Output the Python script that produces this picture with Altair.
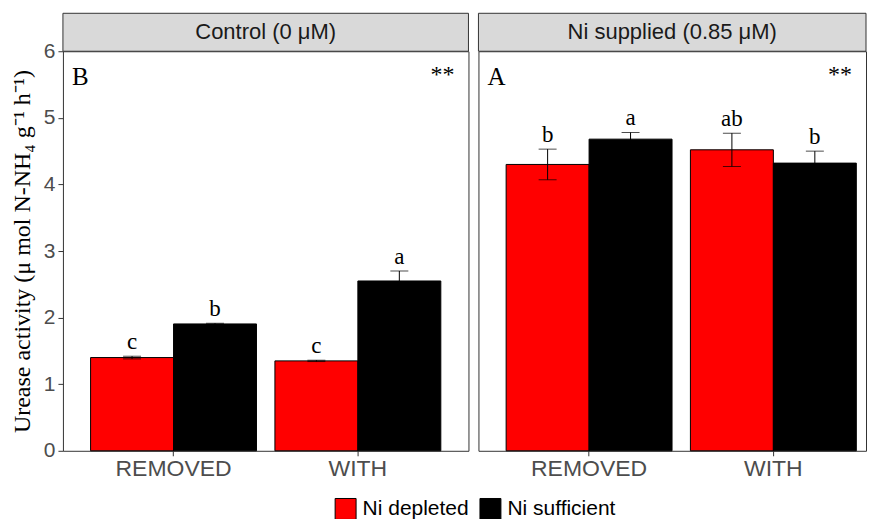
import altair as alt
import pandas as pd

panels = ["Control (0 μM)", "Ni supplied (0.85 μM)"]
groups = ["REMOVED", "WITH"]
ni_levels = ["Ni depleted", "Ni sufficient"]
colors = ["#ff0000", "#000000"]

# order: REMOVED-depleted, REMOVED-sufficient, WITH-depleted, WITH-sufficient
control_means = [1.40, 1.905, 1.35, 2.55]
control_err = [0.02, 0.01, 0.01, 0.15]
control_letters = ["c", "b", "c", "a"]

ni_means = [4.30, 4.68, 4.52, 4.32]
ni_err = [0.23, 0.10, 0.25, 0.18]
ni_letters = ["b", "a", "ab", "b"]

panel_tags = ["B", "A"]
panel_sig = ["**", "**"]

y_title = "Urease activity (μ mol N-NH₄ g⁻¹ h⁻¹)"
y_ticks = [0, 1, 2, 3, 4, 5, 6]

rows = []
for p, means, errs, lets in [
    (panels[0], control_means, control_err, control_letters),
    (panels[1], ni_means, ni_err, ni_letters),
]:
    k = 0
    for g in groups:
        for n in ni_levels:
            rows.append(dict(panel=p, group=g, ni=n, mean=means[k],
                             lo=means[k] - errs[k], hi=means[k] + errs[k],
                             letter=lets[k]))
            k += 1
df = pd.DataFrame(rows)

W1 = 406
W2 = 388
H = 400


def make_panel(idx, width, xscale, show_y):
    d = df[df.panel == panels[idx]]
    yaxis = (alt.Axis(title=y_title, values=y_ticks, format="d")
             if show_y else None)
    yscale = alt.Scale(domain=[0, 6], nice=False)
    base = alt.Chart(d).encode(
        x=alt.X("group:N", sort=groups, scale=xscale,
                axis=alt.Axis(title=None, labelAngle=0)),
        xOffset=alt.XOffset("ni:N", sort=ni_levels),
    )
    bars = base.mark_bar(stroke="black", strokeWidth=1).encode(
        y=alt.Y("mean:Q", scale=yscale, axis=yaxis),
        color=alt.Color("ni:N", sort=ni_levels,
                        scale=alt.Scale(domain=ni_levels, range=colors),
                        legend=alt.Legend(title=None, orient="none",
                                          legendX=272, legendY=447)),
    )
    rule = base.mark_rule(color="black", strokeWidth=1).encode(
        y=alt.Y("lo:Q", scale=yscale), y2="hi:Q")
    cap_hi = base.mark_tick(color="black", size=18, thickness=1).encode(
        y=alt.Y("hi:Q", scale=yscale))
    cap_lo = base.mark_tick(color="black", size=18, thickness=1).encode(
        y=alt.Y("lo:Q", scale=yscale))
    letters = base.mark_text(font="Liberation Serif", fontSize=23,
                             baseline="alphabetic", dy=-7, color="black").encode(
        y=alt.Y("hi:Q", scale=yscale), text="letter:N")

    sdf = pd.DataFrame({"t": [panels[idx]], "tag": [panel_tags[idx]],
                        "sig": [panel_sig[idx]]})
    strip = alt.Chart(sdf).mark_rect(fill="#d9d9d9", stroke="#333333",
                                     strokeWidth=1).encode(
        x=alt.value(0), x2=alt.value(width), y=alt.value(-38), y2=alt.value(0))
    strip_text = alt.Chart(sdf).mark_text(font="Liberation Sans", fontSize=22,
                                          color="#1a1a1a", baseline="middle").encode(
        x=alt.value(width / 2), y=alt.value(-19), text="t:N")
    tag = alt.Chart(sdf).mark_text(font="Liberation Serif", fontSize=25,
                                   align="left", baseline="middle",
                                   color="black").encode(
        x=alt.value(9), y=alt.value(26), text="tag:N")
    sig = alt.Chart(sdf).mark_text(font="Liberation Serif", fontSize=24,
                                   align="right", baseline="middle",
                                   color="black").encode(
        x=alt.value(width - 14), y=alt.value(24), text="sig:N")

    return alt.layer(bars, rule, cap_hi, cap_lo, letters, strip, strip_text,
                     tag, sig).properties(width=width, height=H)


x1 = alt.Scale(paddingInner=0.1, paddingOuter=0.15)
x2 = alt.Scale(paddingInner=0.1, paddingOuter=0.1015, align=0.74)

chart = alt.hconcat(
    make_panel(0, W1, x1, True),
    make_panel(1, W2, x2, False),
    spacing=8,
).resolve_scale(
    y="independent", x="independent", color="shared"
).properties(
    padding={"left": 1, "top": 4, "right": 0, "bottom": 0}
).configure_view(
    stroke="#333333", strokeWidth=1
).configure_axis(
    grid=False, domain=False,
    labelFont="Liberation Sans", labelColor="#4d4d4d",
    tickColor="#333333", tickSize=5,
    titleFont="Liberation Serif", titleColor="black", titleFontWeight="normal",
).configure_axisX(
    labelFontSize=23, labelPadding=2,
).configure_axisY(
    labelFontSize=21, labelPadding=3, titleFontSize=24, titlePadding=9,
).configure_legend(
    direction="horizontal",
    labelFont="Liberation Sans", labelFontSize=21, labelColor="black",
    symbolType="square", symbolSize=440, symbolStrokeColor="black",
    symbolStrokeWidth=1, symbolOpacity=1, columnPadding=8, labelOffset=6,
    padding=0,
)

chart.save("out.html", embed_options={"renderer": "svg", "actions": False})
